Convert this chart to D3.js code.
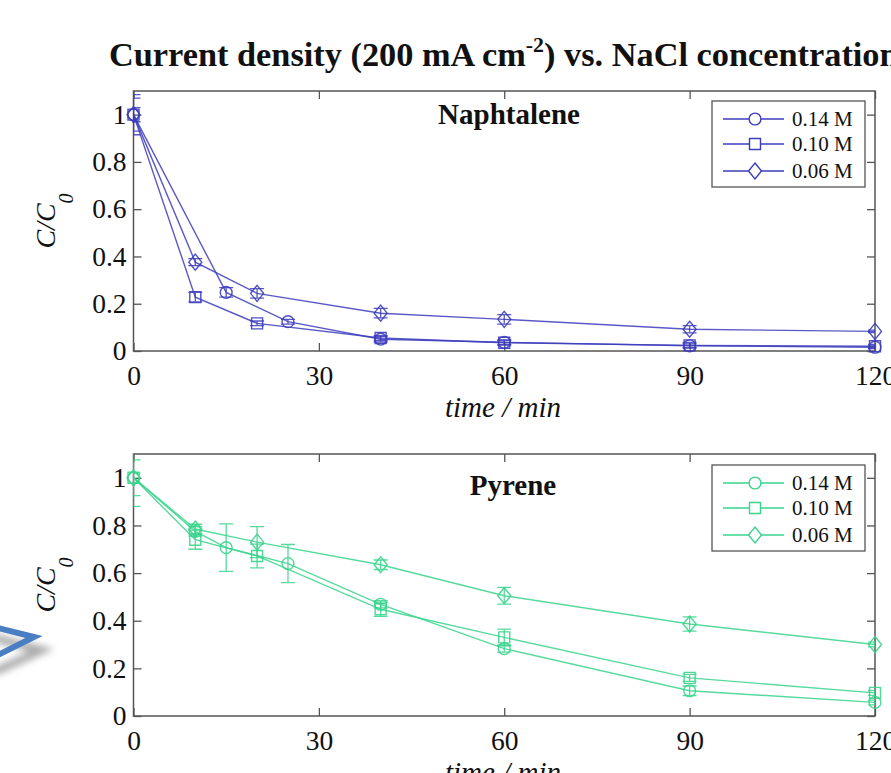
<!DOCTYPE html>
<html>
<head>
<meta charset="utf-8">
<script src="https://cdn.jsdelivr.net/npm/d3@7"></script>
<style>
body { margin: 0; background: #fff; }
svg { display: block; }
text { font-family: "Liberation Serif", "Times New Roman", serif; fill: #111; }
</style>
</head>
<body>
<div id="chart"></div>
<script>
var W = 891, H = 773;

var xTicks = [0, 30, 60, 90, 120];
var yTicks = [0, 0.2, 0.4, 0.6, 0.8, 1];
var concLabels = ["0.14 M", "0.10 M", "0.06 M"];
var markerShapes = ["circle", "square", "diamond"];

// [time / min, C/C0, error]
var naph014 = [[0, 1, 0.085], [15, 0.248, 0.02], [25, 0.124, 0.01], [40, 0.05, 0.012], [60, 0.037, 0.01], [90, 0.022, 0.008], [120, 0.016, 0.006]];
var naph010 = [[0, 1, 0.07], [10, 0.228, 0.02], [20, 0.117, 0.01], [40, 0.055, 0.01], [60, 0.035, 0.01], [90, 0.024, 0.012], [120, 0.02, 0.008]];
var naph006 = [[0, 1, 0.03], [10, 0.376, 0.015], [20, 0.244, 0.02], [40, 0.16, 0.02], [60, 0.134, 0.02], [90, 0.092, 0.015], [120, 0.083, 0.005]];

var pyr014 = [[0, 1, 0.075], [10, 0.775, 0.02], [15, 0.707, 0.1], [25, 0.64, 0.08], [40, 0.469, 0.015], [60, 0.283, 0.015], [90, 0.106, 0.02], [120, 0.057, 0.01]];
var pyr010 = [[0, 1, 0.12], [10, 0.74, 0.04], [20, 0.672, 0.05], [40, 0.448, 0.03], [60, 0.33, 0.035], [90, 0.16, 0.015], [120, 0.097, 0.01]];
var pyr006 = [[0, 1, 0.02], [10, 0.785, 0.02], [20, 0.73, 0.065], [40, 0.635, 0.02], [60, 0.505, 0.035], [90, 0.386, 0.03], [120, 0.30, 0.01]];

var svg = d3.select("#chart").append("svg")
	.attr("width", W)
	.attr("height", H);

var defs = svg.append("defs");
defs.append("filter").attr("id", "blur")
	.attr("x", "-50%").attr("y", "-50%").attr("width", "200%").attr("height", "200%")
	.append("feGaussianBlur").attr("stdDeviation", 3.5);

// slide arrow on the left edge
svg.append("path")
	.attr("d", "M-6,638 L42,650 L-6,672")
	.attr("fill", "none")
	.attr("stroke", "#666")
	.attr("stroke-width", 8)
	.attr("opacity", 0.55)
	.attr("filter", "url(#blur)");
svg.append("path")
	.attr("d", "M-6,627 L34,637 L-6,657")
	.attr("fill", "none")
	.attr("stroke", "#4a7ec2")
	.attr("stroke-width", 6)
	.attr("stroke-linejoin", "miter");

// title, stretched to the width it has in the picture (runs off the right edge)
var title = svg.append("text")
	.attr("font-size", 33)
	.attr("font-weight", "bold");
title.append("tspan").text("Current density (200 mA cm");
title.append("tspan").attr("font-size", 21).attr("dy", -14).text("-2");
title.append("tspan").attr("dy", 14).text(") vs. NaCl concentration");
var tw = title.node().getBBox().width;
title.attr("transform", "translate(109,66) scale(" + (790 / tw) + ",1)");

var x = d3.scaleLinear().domain([0, 120]).range([133.5, 875]);

var panels = [
	{ id: "naph", name: "Naphtalene", color: "#3c3cbc", top: 91, bottom: 351,
	  series: [naph014, naph010, naph006], nameX: 509, nameY: 124, legendTop: 101 },
	{ id: "pyr", name: "Pyrene", color: "#38d48c", top: 454, bottom: 716,
	  series: [pyr014, pyr010, pyr006], nameX: 513, nameY: 495, legendTop: 465 }
];

var diamond = {
	draw: function(ctx, size) {
		var w = 6.5, h = 8;
		ctx.moveTo(0, -h); ctx.lineTo(w, 0); ctx.lineTo(0, h); ctx.lineTo(-w, 0); ctx.closePath();
	}
};
var square = {
	draw: function(ctx, size) {
		ctx.rect(-5.5, -5.5, 11, 11);
	}
};
function markerPath(shape) {
	if (shape == "circle") return d3.symbol(d3.symbolCircle, 110)();
	if (shape == "square") return d3.symbol(square)();
	return d3.symbol(diamond)();
}

function yFormat(d) {
	return (d == 0 || d == 1) ? String(d) : d.toFixed(1);
}

panels.forEach(drawPanel);

function drawPanel(p) {
	var y = d3.scaleLinear().domain([0, 1.1]).range([p.bottom, p.top]);
	var g = svg.append("g").attr("class", "panel");

	defs.append("clipPath").attr("id", "clip-" + p.id)
		.append("rect")
		.attr("x", x(0)).attr("y", p.top)
		.attr("width", x(120) - x(0)).attr("height", p.bottom - p.top);

	// axes, ticks inside on all four sides
	var bottomAxis = g.append("g")
		.attr("transform", "translate(0," + p.bottom + ")")
		.call(d3.axisBottom(x).tickValues(xTicks).tickSizeInner(-8).tickSizeOuter(0).tickPadding(14));
	var leftAxis = g.append("g")
		.attr("transform", "translate(" + x(0) + ",0)")
		.call(d3.axisLeft(y).tickValues(yTicks).tickFormat(yFormat).tickSizeInner(-8).tickSizeOuter(0).tickPadding(7));
	var topAxis = g.append("g")
		.attr("transform", "translate(0," + p.top + ")")
		.call(d3.axisTop(x).tickValues(xTicks).tickFormat("").tickSizeInner(-8).tickSizeOuter(0));
	var rightAxis = g.append("g")
		.attr("transform", "translate(" + x(120) + ",0)")
		.call(d3.axisRight(y).tickValues(yTicks).tickFormat("").tickSizeInner(-8).tickSizeOuter(0));

	[bottomAxis, leftAxis, topAxis, rightAxis].forEach(function(a) {
		a.select(".domain").remove();
		a.selectAll("line").attr("stroke", "#555").attr("stroke-width", 1.3);
		a.selectAll("text")
			.attr("font-family", "'Liberation Serif', 'Times New Roman', serif")
			.attr("font-size", 27.5)
			.attr("fill", "#111");
	});

	g.append("rect")
		.attr("x", x(0)).attr("y", p.top)
		.attr("width", x(120) - x(0)).attr("height", p.bottom - p.top)
		.attr("fill", "none")
		.attr("stroke", "#555")
		.attr("stroke-width", 1.5);

	// axis labels
	g.append("text")
		.attr("x", 503)
		.attr("y", p.bottom + 66)
		.attr("text-anchor", "middle")
		.attr("font-size", 29)
		.attr("font-style", "italic")
		.text("time / min");

	var yl = g.append("text")
		.attr("transform", "translate(55," + ((p.top + p.bottom) / 2) + ") rotate(-90)")
		.attr("text-anchor", "middle")
		.attr("font-size", 28)
		.attr("font-style", "italic");
	yl.append("tspan").text("C/C");
	yl.append("tspan").attr("font-size", 20).attr("dy", 18).text("0");

	g.append("text")
		.attr("x", p.nameX)
		.attr("y", p.nameY)
		.attr("text-anchor", "middle")
		.attr("font-size", 29)
		.attr("font-weight", "bold")
		.text(p.name);

	// data
	var line = d3.line()
		.x(function(d) { return x(d[0]); })
		.y(function(d) { return y(d[1]); });

	var errG = g.append("g").attr("clip-path", "url(#clip-" + p.id + ")");

	p.series.forEach(function(s, i) {
		g.append("path")
			.datum(s)
			.attr("d", line)
			.attr("fill", "none")
			.attr("stroke", p.color)
			.attr("stroke-width", 1.4)
			.attr("opacity", 0.85);

		errG.selectAll(".err" + i)
			.data(s)
			.enter().append("path")
			.attr("class", "err" + i)
			.attr("d", function(d) {
				var cx = x(d[0]), y1 = y(d[1] + d[2]), y2 = y(d[1] - d[2]);
				return "M" + (cx - 7) + "," + y1 + "H" + (cx + 7) +
					"M" + cx + "," + y1 + "V" + y2 +
					"M" + (cx - 7) + "," + y2 + "H" + (cx + 7);
			})
			.attr("fill", "none")
			.attr("stroke", p.color)
			.attr("stroke-width", 1.3)
			.attr("opacity", 0.85);

		g.selectAll(".mk" + i)
			.data(s)
			.enter().append("path")
			.attr("class", "mk" + i)
			.attr("transform", function(d) { return "translate(" + x(d[0]) + "," + y(d[1]) + ")"; })
			.attr("d", markerPath(markerShapes[i]))
			.attr("fill", "none")
			.attr("stroke", p.color)
			.attr("stroke-width", 1.4)
			.attr("opacity", 0.9);
	});

	// legend
	var lg = g.append("g").attr("class", "legend");
	lg.append("rect")
		.attr("x", 712).attr("y", p.legendTop)
		.attr("width", 153).attr("height", 86)
		.attr("fill", "#fff")
		.attr("stroke", "#555")
		.attr("stroke-width", 1.3);

	var rows = lg.selectAll(".row")
		.data(concLabels)
		.enter().append("g")
		.attr("class", "row")
		.attr("transform", function(d, i) { return "translate(0," + (p.legendTop + [18, 43, 70][i]) + ")"; });
	rows.append("line")
		.attr("x1", 723).attr("x2", 784)
		.attr("stroke", p.color)
		.attr("stroke-width", 1.4);
	rows.append("path")
		.attr("transform", "translate(755,0)")
		.attr("d", function(d, i) { return markerPath(markerShapes[i]); })
		.attr("fill", "#fff")
		.attr("stroke", p.color)
		.attr("stroke-width", 1.4);
	rows.append("text")
		.attr("x", 792)
		.attr("y", 7)
		.attr("font-size", 21)
		.text(function(d) { return d; });
}
</script>
</body>
</html>
